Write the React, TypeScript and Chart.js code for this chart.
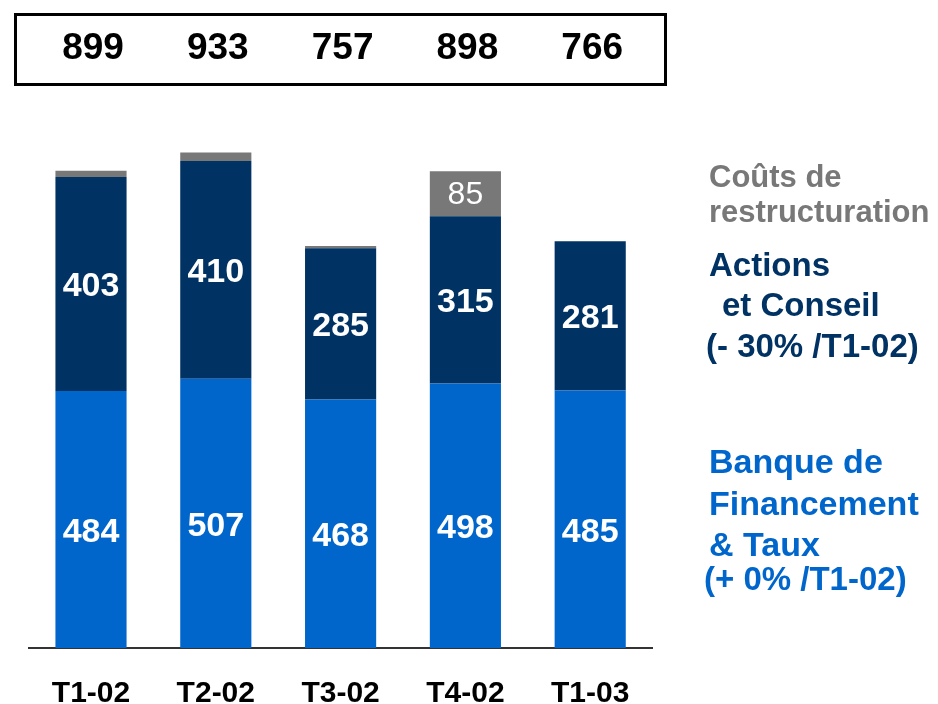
import { useEffect, useRef } from 'react';
import { Chart, registerables } from 'chart.js';

Chart.register(...registerables);

const FONT = '"Liberation Sans", Arial, Helvetica, sans-serif';

const categories = ['T1-02', 'T2-02', 'T3-02', 'T4-02', 'T1-03'];
const banque = [484, 507, 468, 498, 485];
const actions = [403, 410, 285, 315, 281];
const couts = [12, 16, 4, 85, 0];
const totals = [899, 933, 757, 898, 766];

const coutsLabel = ['Coûts de', 'restructuration'];
const actionsLabel = ['Actions', 'et Conseil', '(- 30% /T1-02)'];
const banqueLabel = ['Banque de', 'Financement', '& Taux', '(+ 0% /T1-02)'];

const BLUE = '#0066CC';
const NAVY = '#003263';
const GREY = '#787878';

export default function App() {
  const ref = useRef<HTMLCanvasElement>(null);

  useEffect(() => {
    if (!ref.current) return;

    const overlay = {
      id: 'overlay',
      afterDatasetsDraw(chart: any) {
        const ctx = chart.ctx;
        ctx.save();
        ctx.fillStyle = '#ffffff';
        ctx.textAlign = 'center';
        ctx.textBaseline = 'middle';
        chart.data.datasets.forEach((ds: any, d: number) => {
          const meta = chart.getDatasetMeta(d);
          ctx.font = d === 2 ? `normal 32px ${FONT}` : `bold 34px ${FONT}`;
          const offset = d === 0 ? 13 : d === 1 ? 3 : 1;
          meta.data.forEach((bar: any, i: number) => {
            const p = bar.getProps(['x', 'y', 'base'], true);
            const h = p.base - p.y;
            if (h < 30) return;
            ctx.fillText(String(ds.data[i]), p.x, (p.y + p.base) / 2 + offset);
          });
        });
        ctx.restore();
      },
      afterDraw(chart: any) {
        const ctx = chart.ctx;
        const xs = chart.scales.x;
        ctx.save();
        // totals box
        ctx.strokeStyle = '#000';
        ctx.lineWidth = 3;
        ctx.strokeRect(15.5, 14.5, 650, 70);
        ctx.fillStyle = '#000';
        ctx.font = `bold 37px ${FONT}`;
        ctx.textAlign = 'center';
        ctx.textBaseline = 'middle';
        totals.forEach((t, i) => {
          ctx.fillText(String(t), xs.getPixelForValue(i) + 2, 49);
        });
        // legend labels
        ctx.textAlign = 'left';
        ctx.fillStyle = GREY;
        ctx.font = `bold 31px ${FONT}`;
        ctx.fillText(coutsLabel[0], 709, 178);
        ctx.fillText(coutsLabel[1], 709, 213);
        ctx.fillStyle = NAVY;
        ctx.font = `bold 33px ${FONT}`;
        ctx.fillText(actionsLabel[0], 709, 267);
        ctx.fillText(actionsLabel[1], 722, 307);
        ctx.fillText(actionsLabel[2], 706, 348);
        ctx.fillStyle = BLUE;
        ctx.font = `bold 34px ${FONT}`;
        ctx.fillText(banqueLabel[0], 709, 464);
        ctx.fillText(banqueLabel[1], 709, 506);
        ctx.fillText(banqueLabel[2], 709, 547);
        ctx.font = `bold 33px ${FONT}`;
        ctx.fillText(banqueLabel[3], 704, 581);
        ctx.restore();
      },
    };

    const chart = new Chart(ref.current, {
      type: 'bar',
      data: {
        labels: categories,
        datasets: [
          { label: 'Banque de Financement & Taux', data: banque, backgroundColor: BLUE },
          { label: 'Actions et Conseil', data: actions, backgroundColor: NAVY },
          { label: 'Coûts de restructuration', data: couts, backgroundColor: GREY },
        ],
      },
      options: {
        responsive: false,
        animation: false,
        events: [],
        datasets: {
          bar: { categoryPercentage: 1, barPercentage: 0.57, borderWidth: 0 },
        },
        layout: { padding: { left: 28.6, right: 285.4, top: 117, bottom: -36 } },
        plugins: {
          legend: { display: false },
          tooltip: { enabled: false },
          title: { display: false },
        },
        scales: {
          x: {
            stacked: true,
            grid: { display: false, drawTicks: false },
            border: { display: true, color: '#333333', width: 2 },
            ticks: {
              color: '#000',
              padding: 31,
              font: { family: FONT, size: 30, weight: 'bold', lineHeight: 1 },
            },
          },
          y: {
            stacked: true,
            display: false,
            min: 0,
            max: 1000,
          },
        },
      },
      plugins: [overlay],
    });

    return () => chart.destroy();
  }, []);

  return (
    <div style={{ position: 'absolute', left: 0, top: 0, width: 938, height: 704, background: '#fff' }}>
      <canvas ref={ref} width={938} height={704} style={{ display: 'block' }} />
    </div>
  );
}
